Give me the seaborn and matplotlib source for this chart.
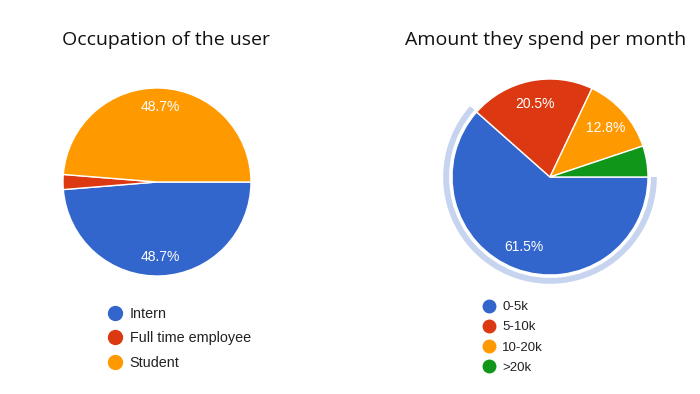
import matplotlib
matplotlib.use("Agg")
import matplotlib.pyplot as plt
from matplotlib.lines import Line2D
import seaborn as sns

# survey answers (39 responses)
occupation = ["Intern", "Full time employee", "Student"]
occupation_counts = [19, 1, 19]

spend = ["0-5k", "5-10k", "10-20k", ">20k"]
spend_counts = [24, 8, 5, 2]

palette = ["#3366cc", "#dc3912", "#ff9900", "#109618"]
halo_color = "#c6d4ef"

sns.set_theme(style="white")
plt.rcParams["font.family"] = ["Liberation Sans", "DejaVu Sans"]

W, H = 700, 394
fig = plt.figure(figsize=(W / 100, H / 100), dpi=100)


def pie_axes(cx, cy, r, pad=1.2):
    half = r * pad
    ax = fig.add_axes([(cx - half) / W, (H - cy - half) / H, 2 * half / W, 2 * half / H])
    return ax


def pct_label(limit):
    return lambda p: f"{p:.1f}%" if p >= limit else ""


def add_legend(labels, colors, x, y, size, msize, spacing, pad):
    handles = [Line2D([], [], ls="none", marker="o", markersize=msize, color=c) for c in colors]
    fig.legend(handles, labels, loc="upper left", bbox_to_anchor=(x / W, 1 - y / H),
               frameon=False, fontsize=size, borderpad=0, borderaxespad=0,
               handlelength=1.0, handletextpad=pad, labelspacing=spacing,
               labelcolor="#222222")


# left pie
ax1 = pie_axes(157, 182, 94)
ax1.pie(occupation_counts, colors=palette[:3], startangle=0, counterclock=False,
        autopct=pct_label(5), pctdistance=0.8,
        wedgeprops=dict(edgecolor="white", linewidth=1),
        textprops=dict(color="white", fontsize=10))
ax1.set_xlim(-1.2, 1.2)
ax1.set_ylim(-1.2, 1.2)

# right pie, first slice highlighted
ax2 = pie_axes(550, 177, 98)
ax2.pie(spend_counts, colors=[halo_color, "none", "none", "none"], startangle=0,
        counterclock=False, radius=1.09,
        wedgeprops=dict(width=0.06, edgecolor="none"))
ax2.pie(spend_counts, colors=palette, startangle=0, counterclock=False,
        autopct=pct_label(6), pctdistance=0.76,
        wedgeprops=dict(edgecolor="white", linewidth=1),
        textprops=dict(color="white", fontsize=10))
ax2.set_xlim(-1.2, 1.2)
ax2.set_ylim(-1.2, 1.2)

fig.text(166 / W, 1 - 40 / H, "Occupation of the user", ha="center", va="center",
         fontsize=14, family=["Open Sans", "DejaVu Sans"], color="#111111")
fig.text(546 / W, 1 - 40 / H, "Amount they spend per month", ha="center", va="center",
         fontsize=14, family=["Open Sans", "DejaVu Sans"], color="#111111")

add_legend(occupation, palette[:3], 108, 307, 10.4, 10, 0.72, 0.5)
add_legend(spend, palette, 482, 301, 9.5, 9, 0.6, 0.55)

fig.savefig("out.png", dpi=100, facecolor="white")
